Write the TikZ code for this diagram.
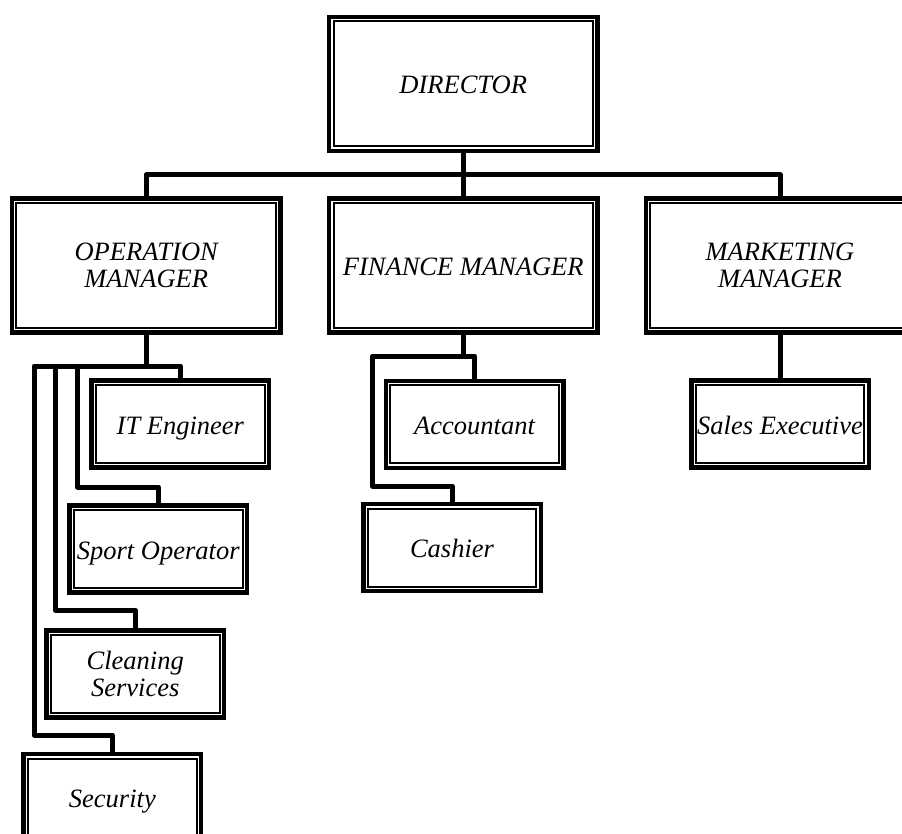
\documentclass[tikz,border=0pt]{standalone}
\usepackage{fontspec}
\setmainfont{Liberation Serif}
\newcommand\orgfont{\fontsize{26.5}{27}\selectfont\itshape}
\begin{document}
\begin{tikzpicture}[x=1pt,y=-1pt,
  orgbox/.style={draw, line width=4.5pt, outer sep=0pt, inner sep=0pt,
                 align=center, font=\orgfont},
  topbox/.style={orgbox, minimum width=268.5pt, minimum height=134pt},
  subbox/.style={orgbox, minimum width=177.5pt, minimum height=87pt},
  oneline/.style={text height=25pt, text depth=5pt},
  innerline/.style={line width=2pt},
  conn/.style={line width=5pt, line join=round}]
\useasboundingbox (0,0) rectangle (902,834);
\clip (0,0) rectangle (902,834);

% boxes
\node[topbox, oneline] (dir) at (463.25,84) {DIRECTOR};
\node[topbox] (om) at (146.2,265.7) {OPERATION\\MANAGER};
\node[topbox, oneline] (fm) at (463.25,265.5) {FINANCE MANAGER};
\node[topbox] (mm) at (780,265.5) {MARKETING\\MANAGER};

\node[subbox, oneline] (it) at (180.35,424) {IT Engineer};
\node[subbox, oneline] (sp) at (158.25,549) {Sport Operator};
\node[subbox] (cl) at (135.25,673.75) {Cleaning\\Services};
\node[subbox, oneline] (sec) at (112.35,797.5) {Security};

\node[subbox, oneline] (acc) at (474.5,424.25) {Accountant};
\node[subbox, oneline] (cash) at (452,547.5) {Cashier};

\node[subbox, oneline] (se) at (780,424) {Sales Executive};

% thin inner frame of every box
\foreach \n in {dir,om,fm,mm,it,sp,cl,sec,acc,cash,se}
  \draw[innerline] ([xshift=4.5pt,yshift=-4.5pt]\n.north west)
        rectangle ([xshift=-4.5pt,yshift=4.5pt]\n.south east);

% director to managers
\coordinate (topbus) at (463.25,175);
\draw[conn] (dir.south) -- (topbus);
\draw[conn] (om.north) -- (om.north |- topbus) -- (mm.north |- topbus) -- (mm.north);
\draw[conn] (fm.north) -- (fm.north |- topbus);

% operation manager staff
\coordinate (opbus) at (146.2,366);
\coordinate (lane1) at (34,366);
\coordinate (lane2) at (55.5,366);
\coordinate (lane3) at (77.5,366);
\draw[conn] (om.south) -- (opbus);
\draw[conn] (it.north) -- (it.north |- opbus) -- (lane1)
            |- ([yshift=19pt]sec.north) -- (sec.north);
\draw[conn] (lane2) |- ([yshift=20pt]cl.north) -- (cl.north);
\draw[conn] (lane3) |- ([yshift=18.5pt]sp.north) -- (sp.north);

% finance manager staff
\coordinate (finbus) at (463.25,356);
\coordinate (finlane) at (372.5,356);
\draw[conn] (fm.south) -- (finbus);
\draw[conn] (acc.north) -- (acc.north |- finbus) -- (finlane)
            |- ([yshift=18pt]cash.north) -- (cash.north);

% marketing manager staff
\draw[conn] (mm.south) -- (se.north);
\end{tikzpicture}
\end{document}
